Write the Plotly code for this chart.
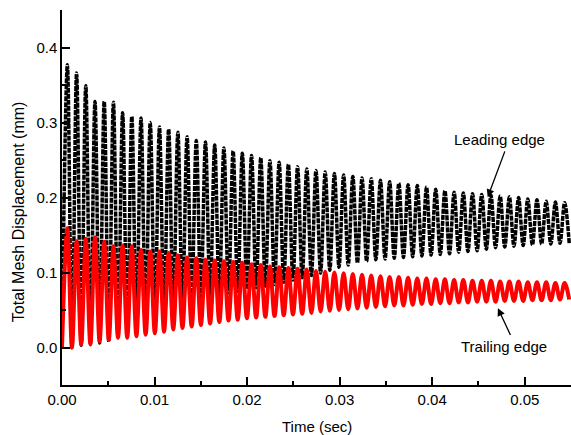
import plotly.graph_objects as go

# ---- data ----
# oscillation timing (sec)
FIRST_PEAK_T = 0.00058
PERIOD = 0.000995

# Leading edge (black): successive maxima / minima (mm)
lead_peaks = [0.377, 0.366, 0.349, 0.328, 0.328, 0.327, 0.313, 0.308, 0.306, 0.300,
              0.294, 0.291, 0.287, 0.281, 0.276, 0.274, 0.270, 0.266, 0.262, 0.259,
              0.256, 0.253, 0.249, 0.247, 0.244, 0.241, 0.238, 0.236, 0.234, 0.232,
              0.230, 0.228, 0.226, 0.225, 0.223, 0.221, 0.219, 0.217, 0.216, 0.214,
              0.211, 0.209, 0.207, 0.206, 0.205, 0.204, 0.203, 0.202, 0.201, 0.200,
              0.198, 0.197, 0.195, 0.194, 0.193]
lead_troughs = [0.000, 0.003, 0.004, 0.006, 0.008, 0.014, 0.020, 0.026, 0.032, 0.038,
                0.044, 0.050, 0.056, 0.060, 0.064, 0.067, 0.070, 0.073, 0.075, 0.078,
                0.080, 0.082, 0.084, 0.087, 0.090, 0.093, 0.096, 0.099, 0.103, 0.107,
                0.110, 0.113, 0.115, 0.117, 0.118, 0.119, 0.120, 0.121, 0.122, 0.123,
                0.124, 0.125, 0.127, 0.128, 0.129, 0.131, 0.133, 0.134, 0.135, 0.136,
                0.137, 0.138, 0.138, 0.139, 0.139]

# Trailing edge (red): successive maxima / minima (mm)
trail_peaks = [0.159, 0.142, 0.145, 0.147, 0.141, 0.135, 0.136, 0.135, 0.130, 0.128,
               0.128, 0.126, 0.123, 0.120, 0.119, 0.117, 0.116, 0.115, 0.114, 0.113,
               0.111, 0.110, 0.108, 0.107, 0.106, 0.105, 0.104, 0.102, 0.101, 0.100,
               0.099, 0.098, 0.097, 0.096, 0.095, 0.094, 0.094, 0.093, 0.092, 0.092,
               0.091, 0.091, 0.090, 0.090, 0.089, 0.089, 0.089, 0.088, 0.088, 0.088,
               0.087, 0.087, 0.087, 0.086, 0.086]
trail_troughs = [0.000, 0.004, 0.004, 0.008, 0.010, 0.013, 0.013, 0.015, 0.017, 0.019,
                 0.021, 0.024, 0.026, 0.028, 0.030, 0.032, 0.034, 0.036, 0.037, 0.039,
                 0.040, 0.041, 0.042, 0.043, 0.044, 0.045, 0.046, 0.048, 0.049, 0.050,
                 0.051, 0.052, 0.053, 0.054, 0.055, 0.056, 0.056, 0.057, 0.058, 0.058,
                 0.059, 0.059, 0.060, 0.060, 0.061, 0.061, 0.061, 0.062, 0.062, 0.062,
                 0.063, 0.063, 0.063, 0.064, 0.064]

x_tick_vals = [0.00, 0.01, 0.02, 0.03, 0.04, 0.05]
y_tick_vals = [0.0, 0.1, 0.2, 0.3, 0.4]


def series(peaks, troughs):
    t = [0.0]
    v = [0.0]
    for k, (p, q) in enumerate(zip(peaks, troughs)):
        t.append(FIRST_PEAK_T + k * PERIOD)
        v.append(p)
        t.append(FIRST_PEAK_T + k * PERIOD + PERIOD / 2)
        v.append(q)
    return t, v


lt, lv = series(lead_peaks, lead_troughs)
tt, tv = series(trail_peaks, trail_troughs)

FONT = "Arial, Liberation Sans, sans-serif"

fig = go.Figure()
fig.add_trace(go.Scatter(x=lt, y=lv, mode="lines", name="Leading edge",
                         line=dict(color="#000000", width=3.5, dash="5px,1px",
                                   shape="spline", smoothing=1.0)))
fig.add_trace(go.Scatter(x=tt, y=tv, mode="lines", name="Trailing edge",
                         line=dict(color="#ff0000", width=4,
                                   shape="spline", smoothing=1.0)))

axis_common = dict(showline=True, linecolor="black", linewidth=1.5,
                   ticks="inside", ticklen=8, tickwidth=1.5, tickcolor="black",
                   showgrid=False, zeroline=False, mirror=False, automargin=False,
                   tickfont=dict(family=FONT, size=15, color="black"))

fig.update_xaxes(range=[0, 0.055], tickvals=x_tick_vals, tickformat=".2f",
                 minor=dict(dtick=0.005, tick0=0, ticks="inside", ticklen=4,
                            tickwidth=1.5, tickcolor="black"),
                 **axis_common)
fig.update_yaxes(range=[-0.05, 0.45], tickvals=y_tick_vals, tickformat=".1f",
                 minor=dict(dtick=0.05, tick0=0, ticks="inside", ticklen=4,
                            tickwidth=1.5, tickcolor="black"),
                 **axis_common)

fig.add_annotation(x=0.5, y=0, xref="paper", yref="paper", text="Time (sec)",
                   showarrow=False, yanchor="middle", yshift=-41,
                   font=dict(family=FONT, size=15, color="black"))
fig.add_annotation(x=0, y=0.461, xref="paper", yref="paper",
                   text="Total Mesh Displacement (mm)", textangle=-90,
                   showarrow=False, xanchor="center", yanchor="middle", xshift=-44,
                   font=dict(family=FONT, size=16, color="black"))

ann_font = dict(family=FONT, size=15, color="black")
fig.add_annotation(x=0.0473, y=0.277, text="Leading edge", showarrow=False, font=ann_font)
fig.add_annotation(x=0.0460, y=0.2005, ax=0.04791, ay=0.2635, axref="x", ayref="y",
                   text="", showarrow=True, arrowhead=2, arrowsize=1.2, arrowwidth=1.3,
                   arrowcolor="black")
fig.add_annotation(x=0.0478, y=0.0013, text="Trailing edge", showarrow=False, font=ann_font)
fig.add_annotation(x=0.0471, y=0.0525, ax=0.04853, ay=0.0147, axref="x", ayref="y",
                   text="", showarrow=True, arrowhead=2, arrowsize=1.2, arrowwidth=1.3,
                   arrowcolor="black")

fig.update_layout(width=571, height=435, showlegend=False,
                  plot_bgcolor="white", paper_bgcolor="white",
                  margin=dict(l=62, r=0, t=10, b=50),
                  font=dict(family=FONT, color="black"))

fig.write_html("out.html", config={"displayModeBar": False},
               post_script="document.body.style.margin='0px';document.body.style.overflow='hidden';")
